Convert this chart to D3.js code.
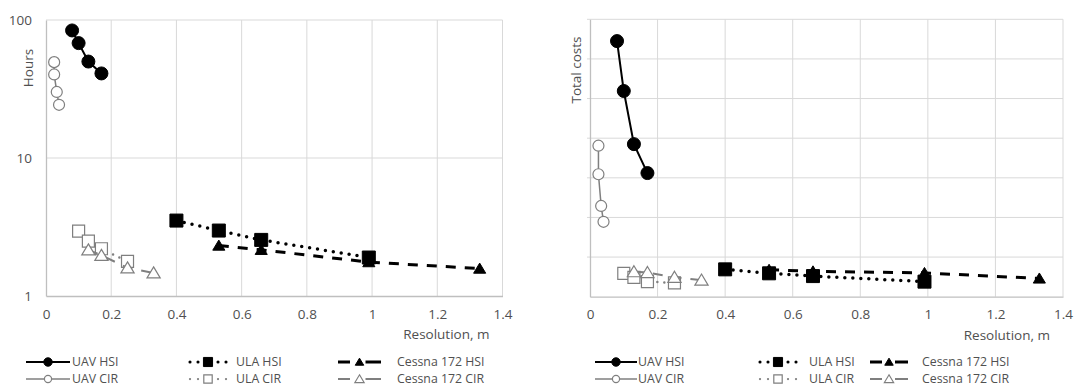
<!DOCTYPE html>
<html>
<head>
<meta charset="utf-8">
<script src="https://cdn.jsdelivr.net/npm/d3@7"></script>
<style>
  body { margin: 0; background: #fff; overflow: hidden; }
  text { font-family: "Open Sans", "Liberation Sans", sans-serif; fill: #505050; }
</style>
</head>
<body>
<div id="chart"></div>
<script>
// values
const xTicks = [0, 0.2, 0.4, 0.6, 0.8, 1, 1.2, 1.4];
const hourTicks = [1, 10, 100];
const costTicks = [0, 1, 2, 3, 4, 5, 6, 7];

const resUavHsi = [0.08, 0.10, 0.13, 0.17];
const resUavCir = [0.025, 0.025, 0.033, 0.04];
const resUlaHsi = [0.40, 0.53, 0.66, 0.99];
const resUlaCir = [0.10, 0.13, 0.17, 0.25];
const resCessnaHsi = [0.53, 0.66, 0.99, 1.33];
const resCessnaCir = [0.13, 0.17, 0.25, 0.33];

const hoursUavHsi = [84, 68, 50, 41];
const hoursUavCir = [49.5, 40.3, 30.1, 24.3];
const hoursUlaHsi = [3.52, 2.98, 2.55, 1.9];
const hoursUlaCir = [2.95, 2.5, 2.2, 1.78];
const hoursCessnaHsi = [2.32, 2.16, 1.76, 1.58];
const hoursCessnaCir = [2.16, 1.97, 1.6, 1.47];

const costUavHsi = [6.45, 5.19, 3.85, 3.12];
const costUavCir = [3.81, 3.09, 2.29, 1.89];
const costUlaHsi = [0.69, 0.59, 0.52, 0.38];
const costUlaCir = [0.59, 0.49, 0.38, 0.35];
const costCessnaHsi = [0.68, 0.64, 0.6, 0.46];
const costCessnaCir = [0.63, 0.61, 0.49, 0.42];

const names = ["UAV HSI", "UAV CIR", "ULA HSI", "ULA CIR", "Cessna 172 HSI", "Cessna 172 CIR"];

const black = "#000", grey = "#7f7f7f";
const styles = {
    "UAV HSI":        { stroke: black, width: 2,   dash: null,   cap: "butt",  shape: "circle",   fill: black,  size: 6.5 },
    "UAV CIR":        { stroke: grey,  width: 1.5, dash: null,   cap: "butt",  shape: "circle",   fill: "#fff", size: 5.5 },
    "ULA HSI":        { stroke: black, width: 3.5, dash: "0,8",  cap: "round", shape: "square",   fill: black,  size: 13 },
    "ULA CIR":        { stroke: grey,  width: 2.5, dash: "0,7",  cap: "round", shape: "square",   fill: "#fff", size: 12 },
    "Cessna 172 HSI": { stroke: black, width: 3,   dash: "10,9", cap: "butt",  shape: "triangle", fill: black,  size: 11 },
    "Cessna 172 CIR": { stroke: grey,  width: 2,   dash: "10,9", cap: "butt",  shape: "triangle", fill: "#fff", size: 12 }
};

const pageWidth = 1074, pageHeight = 389;
const fontSize = 13.5;
const legendFont = 12.3;
const svg = d3.select("#chart").append("svg")
    .attr("width", pageWidth)
    .attr("height", pageHeight)
    .style("display", "block");

function markerPath(shape, size) {
    if (shape === "square") return d3.symbol(d3.symbolSquare, size * size)();
    const s = size;
    return "M0," + (-s * 0.5) + "L" + (s * 0.55) + "," + (s * 0.42) + "L" + (-s * 0.55) + "," + (s * 0.42) + "Z";
}

function drawMarker(g, st, x, y, scale) {
    scale = scale || 1;
    if (st.shape === "circle") {
        g.append("circle").attr("cx", x).attr("cy", y).attr("r", st.size * scale)
            .attr("fill", st.fill).attr("stroke", st.stroke).attr("stroke-width", st.fill === "#fff" ? 1.2 : 1);
    } else {
        g.append("path").attr("d", markerPath(st.shape, st.size * scale))
            .attr("transform", "translate(" + x + "," + y + ")")
            .attr("fill", st.fill).attr("stroke", st.stroke).attr("stroke-width", st.fill === "#fff" ? 1.2 : 1);
    }
}

function panel(opts) {
    const g = svg.append("g");
    const x = d3.scaleLinear().domain([0, 1.4]).range([opts.left, opts.right]);
    const y = opts.y;

    // gridlines
    g.append("g").selectAll("line.v").data(xTicks.slice(1)).join("line")
        .attr("x1", d => x(d)).attr("x2", d => x(d))
        .attr("y1", opts.top).attr("y2", opts.bottom)
        .attr("stroke", "#d9d9d9").attr("stroke-width", 1);
    g.append("g").selectAll("line.h").data(opts.yTicks.slice(1)).join("line")
        .attr("x1", opts.left - (opts.tickOut || 0)).attr("x2", opts.right)
        .attr("y1", d => y(d)).attr("y2", d => y(d))
        .attr("stroke", "#d9d9d9").attr("stroke-width", 1);

    // axes
    g.append("g").attr("transform", "translate(0," + opts.bottom + ")")
        .call(d3.axisBottom(x).tickValues(xTicks).tickSize(0).tickPadding(13).tickFormat(d3.format("~g")))
        .call(a => a.select(".domain").attr("stroke", "#bfbfbf").attr("stroke-width", 1.3))
        .call(a => a.selectAll("text").attr("font-size", fontSize).style("fill", "#505050"));
    g.append("g").attr("transform", "translate(" + opts.left + ",0)")
        .call(d3.axisLeft(y).tickValues(opts.yTicks).tickSize(0).tickPadding(opts.yPad).tickFormat(opts.yFormat))
        .call(a => a.select(".domain").attr("stroke", "#bfbfbf").attr("stroke-width", 1.3))
        .call(a => a.selectAll("text").attr("font-size", fontSize).style("fill", "#505050"));

    g.append("text").attr("x", opts.right - 13).attr("y", opts.bottom + 43)
        .attr("text-anchor", "end").attr("font-size", fontSize).text("Resolution, m");
    g.append("text").attr("transform", "translate(" + opts.yLabelX + "," + opts.yLabelY + ") rotate(-90)")
        .attr("text-anchor", "middle").attr("font-size", fontSize).text(opts.yLabel);

    const line = d3.line().x(d => x(d[0])).y(d => y(d[1]));
    const order = ["UAV CIR", "ULA CIR", "Cessna 172 CIR", "Cessna 172 HSI", "ULA HSI", "UAV HSI"];
    order.forEach(name => {
        const st = styles[name];
        const pts = opts.series[name];
        g.append("path").datum(pts).attr("d", line)
            .attr("fill", "none").attr("stroke", st.stroke).attr("stroke-width", st.width)
            .attr("stroke-dasharray", st.dash).attr("stroke-linecap", st.cap);
        const mg = g.append("g");
        pts.forEach(p => drawMarker(mg, st, x(p[0]), y(p[1])));
    });

    // legend
    const cols = opts.legendCols;
    const rows = [362, 379];
    names.forEach((name, i) => {
        const st = styles[name];
        const c = cols[Math.floor(i / 2)];
        const ry = rows[i % 2];
        const lg = g.append("g");
        const mid = (c.x0 + c.x1) / 2;
        if (st.shape === "circle") {
            lg.append("line").attr("x1", c.x0).attr("x2", c.x1).attr("y1", ry).attr("y2", ry)
                .attr("stroke", st.stroke).attr("stroke-width", st.width);
        } else if (st.shape === "square") {
            [-18, -10, 10, 18].forEach(o => lg.append("circle").attr("cx", mid + o).attr("cy", ry)
                .attr("r", st.width / 2 * 0.9).attr("fill", st.stroke));
        } else {
            lg.append("line").attr("x1", c.x0).attr("x2", c.x0 + 12).attr("y1", ry).attr("y2", ry)
                .attr("stroke", st.stroke).attr("stroke-width", st.width);
            lg.append("line").attr("x1", mid + 6).attr("x2", c.x1).attr("y1", ry).attr("y2", ry)
                .attr("stroke", st.stroke).attr("stroke-width", st.width);
        }
        drawMarker(lg, st, mid, ry, st.shape === "circle" ? 0.65 : 0.7);
        lg.append("text").attr("x", c.tx).attr("y", ry).attr("dy", "0.35em")
            .attr("font-size", legendFont).text(name);
    });
}

function pairs(xs, ys) { return xs.map((v, i) => [v, ys[i]]); }

panel({
    left: 46, right: 502.5, top: 20, bottom: 296,
    y: d3.scaleLog().domain([1, 100]).range([296, 20]),
    yTicks: hourTicks, yFormat: d3.format("d"), yPad: 14,
    yLabel: "Hours", yLabelX: 33, yLabelY: 68,
    series: {
        "UAV HSI": pairs(resUavHsi, hoursUavHsi),
        "UAV CIR": pairs(resUavCir, hoursUavCir),
        "ULA HSI": pairs(resUlaHsi, hoursUlaHsi),
        "ULA CIR": pairs(resUlaCir, hoursUlaCir),
        "Cessna 172 HSI": pairs(resCessnaHsi, hoursCessnaHsi),
        "Cessna 172 CIR": pairs(resCessnaCir, hoursCessnaCir)
    },
    legendCols: [{ x0: 26, x1: 70, tx: 72 }, { x0: 186, x1: 230, tx: 236 }, { x0: 338, x1: 381, tx: 397 }]
});

panel({
    left: 590, right: 1063, top: 19.3, bottom: 296.7,
    y: d3.scaleLinear().domain([0, 7]).range([296.7, 19.3]),
    yTicks: costTicks, yFormat: () => "", yPad: 0, tickOut: 3,
    yLabel: "Total costs", yLabelX: 581, yLabelY: 70,
    series: {
        "UAV HSI": pairs(resUavHsi, costUavHsi),
        "UAV CIR": pairs(resUavCir, costUavCir),
        "ULA HSI": pairs(resUlaHsi, costUlaHsi),
        "ULA CIR": pairs(resUlaCir, costUlaCir),
        "Cessna 172 HSI": pairs(resCessnaHsi, costCessnaHsi),
        "Cessna 172 CIR": pairs(resCessnaCir, costCessnaCir)
    },
    legendCols: [{ x0: 595, x1: 637, tx: 638 }, { x0: 757, x1: 799, tx: 809 }, { x0: 870, x1: 908, tx: 922 }]
});
</script>
</body>
</html>
